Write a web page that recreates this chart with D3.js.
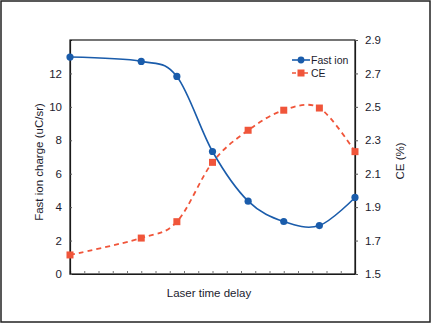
<!DOCTYPE html>
<html><head><meta charset="utf-8">
<script src="https://cdn.jsdelivr.net/npm/d3@7"></script>
<style>body{margin:0;background:#fff}svg{display:block;font-family:"Liberation Sans",Arial,sans-serif}</style>
</head><body><svg id="c" width="431" height="323"></svg>
<script>
const delay = [0, 5, 7.5, 10, 12.5, 15, 17.5, 20];
const fastIon = [12.98, 12.72, 11.82, 7.33, 4.36, 3.14, 2.9, 4.58];
const ce = [1.614, 1.715, 1.813, 2.168, 2.36, 2.48, 2.493, 2.232];
const leftTicks = [0, 2, 4, 6, 8, 10, 12];
const rightTicks = [1.5, 1.7, 1.9, 2.1, 2.3, 2.5, 2.7, 2.9];
const xMinorTicks = d3.range(0, 21, 1);

const svg = d3.select("#c");
const L = 70, R = 355, T = 40, B = 274;
const x = d3.scaleLinear().domain([0, 20]).range([L, R]);
const yL = d3.scaleLinear().domain([0, 14]).range([B, T]);
const yR = d3.scaleLinear().domain([1.5, 2.9]).range([B, T]);
const blue = "#1a5cab", red = "#f0553a", txt = "#1c1c2e";

svg.append("rect").attr("x", 1).attr("y", 1).attr("width", 429).attr("height", 321)
  .attr("fill", "#fff").attr("stroke", "#222").attr("stroke-width", 1.5);

svg.append("rect").attr("x", L).attr("y", T).attr("width", R - L).attr("height", B - T)
  .attr("fill", "none").attr("stroke", "#1a1a1a").attr("stroke-width", 1.2);

const gx = svg.append("g").attr("transform", `translate(0,${B})`)
  .call(d3.axisBottom(x).tickValues(xMinorTicks).tickSize(-3).tickFormat(""));
gx.select(".domain").attr("stroke", "#1a1a1a").attr("stroke-width", 1.2);
gx.selectAll(".tick line").attr("stroke", "#777");

const gl = svg.append("g").attr("transform", `translate(${L},0)`)
  .call(d3.axisLeft(yL).tickValues(leftTicks).tickSize(-2).tickPadding(8).tickFormat(d3.format("d")));
gl.select(".domain").attr("stroke", "#1a1a1a").attr("stroke-width", 1.2);
gl.selectAll(".tick line").attr("stroke", "#555");
gl.selectAll(".tick text").attr("font-size", 11.5).attr("fill", txt).attr("font-family", "Liberation Sans, Arial, sans-serif");

const gr = svg.append("g").attr("transform", `translate(${R},0)`)
  .call(d3.axisRight(yR).tickValues(rightTicks).tickSize(3).tickPadding(7).tickFormat(d3.format(".1f")));
gr.select(".domain").attr("stroke", "#1a1a1a").attr("stroke-width", 1.2);
gr.selectAll(".tick line").attr("stroke", "#555");
gr.selectAll(".tick text").attr("font-size", 11.5).attr("fill", txt).attr("font-family", "Liberation Sans, Arial, sans-serif");

const curve = d3.curveCatmullRom.alpha(0);
svg.append("path").datum(delay.map((d, i) => [x(d), yR(ce[i])]))
  .attr("d", d3.line().curve(curve)).attr("fill", "none").attr("stroke", red)
  .attr("stroke-width", 1.8).attr("stroke-dasharray", "5,4");
svg.append("path").datum(delay.map((d, i) => [x(d), yL(fastIon[i])]))
  .attr("d", d3.line().curve(curve)).attr("fill", "none").attr("stroke", blue)
  .attr("stroke-width", 1.6);

svg.selectAll(".sq").data(delay).enter().append("rect")
  .attr("x", (d, i) => x(d) - 3.5).attr("y", (d, i) => yR(ce[i]) - 3.5)
  .attr("width", 7).attr("height", 7).attr("fill", red);
svg.selectAll(".dot").data(delay).enter().append("circle")
  .attr("cx", d => x(d)).attr("cy", (d, i) => yL(fastIon[i])).attr("r", 3.6).attr("fill", blue);

const lg = svg.append("g");
lg.append("line").attr("x1", 292).attr("x2", 310).attr("y1", 60).attr("y2", 60).attr("stroke", blue).attr("stroke-width", 1.6);
lg.append("circle").attr("cx", 301).attr("cy", 60).attr("r", 3.4).attr("fill", blue);
lg.append("text").attr("x", 311).attr("y", 64).attr("font-size", 10.5).attr("fill", txt).text("Fast ion");
lg.append("line").attr("x1", 292).attr("x2", 310).attr("y1", 73).attr("y2", 73).attr("stroke", red).attr("stroke-width", 1.6).attr("stroke-dasharray", "4,2");
lg.append("rect").attr("x", 297.5).attr("y", 69.5).attr("width", 7).attr("height", 7).attr("fill", red);
lg.append("text").attr("x", 311).attr("y", 77).attr("font-size", 10.5).attr("fill", txt).text("CE");

svg.append("text").attr("transform", `translate(43,162) rotate(-90)`).attr("text-anchor", "middle")
  .attr("font-size", 11.5).attr("fill", txt).text("Fast ion charge (uC/sr)");
svg.append("text").attr("transform", `translate(404,161) rotate(-90)`).attr("text-anchor", "middle")
  .attr("font-size", 11.5).attr("fill", txt).text("CE (%)");
svg.append("text").attr("x", 209).attr("y", 297).attr("text-anchor", "middle")
  .attr("font-size", 11.5).attr("fill", txt).text("Laser time delay");
</script></body></html>
